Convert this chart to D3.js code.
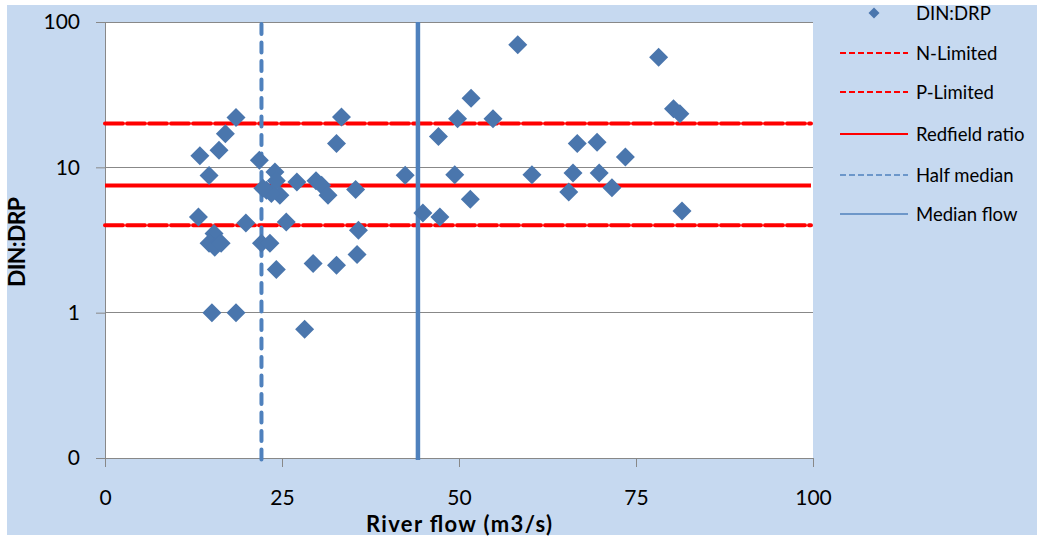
<!DOCTYPE html>
<html>
<head>
<meta charset="utf-8">
<script src="https://cdn.jsdelivr.net/npm/d3@7"></script>
<style>
  body { margin: 0; background: #fff; }
  text { font-family: Lato, "Open Sans", sans-serif; fill: #000; }
</style>
</head>
<body>
<div id="chart"></div>
<script>
// river flow (m3/s) and DIN:DRP ratio
const flow = [13.4, 14.7, 16.1, 17.0, 18.5, 21.8, 13.2, 19.9, 25.6, 15.4,
              14.7, 15.5, 16.4, 22.1, 23.3, 24.2, 29.4, 32.7, 35.6, 35.8,
              15.1, 18.5, 28.2, 33.4, 32.7, 24.0, 24.2, 22.8, 24.7, 23.5,
              22.3, 27.1, 29.8, 30.6, 31.5, 35.4, 58.3, 51.7, 49.8, 54.8,
              47.1, 42.4, 49.4, 60.3, 51.6, 44.9, 47.3, 78.2, 80.3, 81.2,
              66.7, 69.5, 73.5, 66.1, 69.8, 65.5, 71.6, 81.5];
const ratio = [12.0, 8.8, 13.1, 17.0, 22.0, 11.2, 4.56, 4.14, 4.2, 3.5,
               3.0, 2.82, 3.0, 3.0, 3.0, 1.98, 2.18, 2.12, 2.51, 3.69,
               1.0, 1.0, 0.77, 22.2, 14.6, 9.29, 8.1, 6.95, 6.42, 6.6,
               7.17, 7.93, 8.1, 7.52, 6.42, 7.03, 69.7, 29.9, 21.6, 21.6,
               16.3, 8.81, 8.9, 8.9, 6.03, 4.85, 4.56, 57.3, 25.3, 23.4,
               14.6, 14.9, 11.8, 9.14, 9.14, 6.77, 7.25, 5.01];

const nLimited = 20;
const pLimited = 4;
const redfield = 7.5;
const halfMedian = 22.1;
const medianFlow = 44.2;

const xTicks = [0, 25, 50, 75, 100];
const yTicks = [0.1, 1, 10, 100];
const yTickLabels = ["0", "1", "10", "100"];
const legendNames = ["DIN:DRP", "N-Limited", "P-Limited", "Redfield ratio", "Half median", "Median flow"];

const W = 1040, H = 539;
const plot = { left: 105, right: 813, top: 22, bottom: 458 };
const blue = "#4f81bd", dotBlue = "#4a76ad", red = "#ff0000", grid = "#888";

const svg = d3.select("#chart").append("svg").attr("width", W).attr("height", H);

// chart area background
svg.append("rect").attr("x", 7).attr("y", 5).attr("width", 1030).attr("height", 530).attr("fill", "#c6d9f0");
svg.append("rect").attr("x", plot.left).attr("y", plot.top)
    .attr("width", plot.right - plot.left).attr("height", plot.bottom - plot.top).attr("fill", "#fff");

const x = d3.scaleLinear().domain([0, 100]).range([plot.left, plot.right]);
const y = d3.scaleLog().domain([0.1, 100]).range([plot.bottom, plot.top]);

// gridlines
svg.append("g").selectAll("line").data(yTicks.slice(1)).join("line")
    .attr("x1", plot.left).attr("x2", plot.right)
    .attr("y1", d => y(d)).attr("y2", d => y(d))
    .attr("stroke", grid).attr("stroke-width", 1).attr("shape-rendering", "crispEdges");

// y axis
const yAxis = svg.append("g").attr("transform", `translate(${plot.left},0)`)
    .call(d3.axisLeft(y).tickValues(yTicks).tickFormat((d, i) => yTickLabels[i]).tickSize(9).tickPadding(16));
yAxis.select(".domain").attr("stroke", grid);
yAxis.selectAll(".tick line").attr("stroke", grid);
yAxis.selectAll(".tick text").style("font-size", "21px").attr("fill", "#222");

// x axis
const xAxis = svg.append("g").attr("transform", `translate(0,${plot.bottom})`)
    .call(d3.axisBottom(x).tickValues(xTicks).tickSize(9).tickPadding(23));
xAxis.select(".domain").attr("stroke", grid);
xAxis.selectAll(".tick line").attr("stroke", grid);
xAxis.selectAll(".tick text").style("font-size", "21px").attr("fill", "#222");

// threshold lines
const hLines = [
    { v: nLimited, dash: "18,4" },
    { v: redfield, dash: null },
    { v: pLimited, dash: "18,4" }
];
svg.append("g").selectAll("line").data(hLines).join("line")
    .attr("x1", plot.left).attr("x2", plot.right - 2)
    .attr("y1", d => y(d.v)).attr("y2", d => y(d.v))
    .attr("stroke", red).attr("stroke-width", 4)
    .attr("stroke-linecap", d => d.dash ? "round" : "butt")
    .attr("stroke-dasharray", d => d.dash);

// half median (dashed) and median (solid)
svg.append("line")
    .attr("x1", x(halfMedian)).attr("x2", x(halfMedian))
    .attr("y1", plot.top + 2).attr("y2", plot.bottom + 3)
    .attr("stroke", blue).attr("stroke-width", 4)
    .attr("stroke-linecap", "round").attr("stroke-dasharray", "10,8.5");
svg.append("line")
    .attr("x1", x(medianFlow)).attr("x2", x(medianFlow))
    .attr("y1", plot.top).attr("y2", plot.bottom + 2)
    .attr("stroke", blue).attr("stroke-width", 4.5);

// points
const diamond = r => `M0,${-r}L${r},0L0,${r}L${-r},0Z`;
svg.append("g").selectAll("path").data(d3.range(flow.length)).join("path")
    .attr("transform", i => `translate(${x(flow[i])},${y(ratio[i])})`)
    .attr("d", diamond(9.5))
    .attr("fill", dotBlue);

// axis titles
svg.append("text")
    .attr("transform", `translate(25,242) rotate(-90)`)
    .attr("text-anchor", "middle")
    .attr("textLength", 90).attr("lengthAdjust", "spacing")
    .style("font-size", "23px").style("font-weight", "bold")
    .text("DIN:DRP");
svg.append("text")
    .attr("x", 459).attr("y", 532)
    .attr("text-anchor", "middle")
    .attr("textLength", 186).attr("lengthAdjust", "spacing")
    .style("font-size", "22px").style("font-weight", "bold")
    .text("River flow (m3/s)");

// legend
const legendRows = [13, 53, 92, 134, 175, 214];
const legendStyle = [
    null,
    { c: red, dash: "6,3", w: 2 },
    { c: red, dash: "6,3", w: 2 },
    { c: red, dash: null, w: 2 },
    { c: blue, dash: "6,3", w: 1.5 },
    { c: blue, dash: null, w: 1.5 }
];
const legend = svg.append("g");
legendNames.forEach((name, i) => {
    const g = legend.append("g").attr("transform", `translate(0,${legendRows[i]})`);
    const st = legendStyle[i];
    if (st) {
        g.append("line").attr("x1", 840).attr("x2", 908)
            .attr("stroke", st.c).attr("stroke-width", st.w)
            .attr("stroke-dasharray", st.dash);
    } else {
        g.append("path").attr("transform", "translate(874,0)").attr("d", diamond(5.5)).attr("fill", dotBlue);
    }
    g.append("text").attr("x", 916).attr("dy", "0.36em")
        .style("font-size", "18.5px").text(name);
});
</script>
</body>
</html>
